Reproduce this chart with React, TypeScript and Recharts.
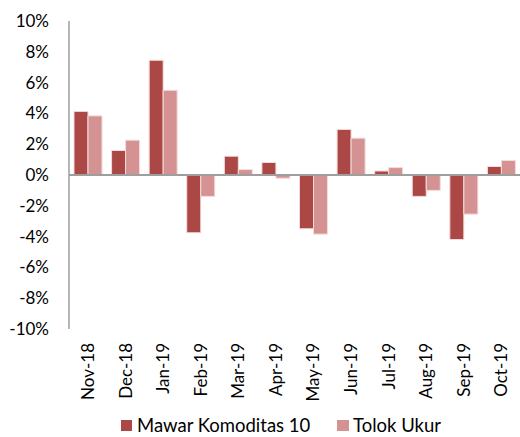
import { BarChart, Bar, XAxis, YAxis, ReferenceLine, Legend } from 'recharts'

const months = ['Nov-18', 'Dec-18', 'Jan-19', 'Feb-19', 'Mar-19', 'Apr-19', 'May-19', 'Jun-19', 'Jul-19', 'Aug-19', 'Sep-19', 'Oct-19']
const mawar = [4.13, 1.59, 7.45, -3.75, 1.22, 0.81, -3.49, 2.96, 0.26, -1.39, -4.19, 0.55]
const tolok = [3.84, 2.26, 5.5, -1.39, 0.35, -0.21, -3.84, 2.39, 0.48, -1.0, -2.54, 0.94]
const yTicks = [-10, -8, -6, -4, -2, 0, 2, 4, 6, 8, 10]

const data = months.map((m, i) => ({ month: m, mawar: mawar[i], tolok: tolok[i] }))

const FONT = 'Lato, "Liberation Sans", sans-serif'
const RED = '#AB4744'
const PINK = '#D49392'

// y from recharts already has tickSize + tickMargin (8px) added
const MonthTick = ({ x, y, payload }: any) => (
  <text
    x={0}
    y={0}
    transform={`translate(${x},${y + 6}) rotate(-90)`}
    textAnchor="end"
    dy="0.36em"
    fontSize={17}
    fontFamily={FONT}
    fill="#000"
  >
    {payload.value}
  </text>
)

const LegendBox = () => (
  <div style={{ position: 'relative', height: 26, fontFamily: FONT, fontSize: 18.5, color: '#000', lineHeight: '20px' }}>
    <div style={{ position: 'absolute', left: 121, top: 4, display: 'flex', alignItems: 'center' }}>
      <span style={{ width: 11, height: 11, background: RED, display: 'inline-block', marginRight: 5 }} />
      <span>Mawar Komoditas 10</span>
    </div>
    <div style={{ position: 'absolute', left: 337, top: 4, display: 'flex', alignItems: 'center' }}>
      <span style={{ width: 12, height: 11, background: PINK, display: 'inline-block', marginRight: 4 }} />
      <span>Tolok Ukur</span>
    </div>
  </div>
)

export default function App() {
  return (
    <div style={{ position: 'absolute', left: 0, top: 0, width: 520, height: 437, background: '#fff', overflow: 'hidden' }}>
      <BarChart
        width={520}
        height={437}
        data={data}
        margin={{ top: 21, right: 0, left: 0, bottom: 0 }}
        barGap={0}
        barSize={14}
      >
        <XAxis
          dataKey="month"
          axisLine={false}
          tickLine={false}
          interval={0}
          height={82}
          tick={<MonthTick />}
        />
        <YAxis
          width={69}
          domain={[-10, 10]}
          ticks={yTicks}
          tickFormatter={(v) => `${v}%`}
          tickLine={false}
          tickSize={0}
          tickMargin={20}
          axisLine={{ stroke: '#9E9E9E', strokeWidth: 1.5 }}
          tick={{ fontSize: 17, fontFamily: FONT, fill: '#000' }}
        />
        <ReferenceLine y={0} stroke="#9E9E9E" strokeWidth={2} />
        <Legend verticalAlign="bottom" content={<LegendBox />} />
        <Bar dataKey="mawar" name="Mawar Komoditas 10" fill={RED} stroke="#F2DCDB" strokeWidth={1} isAnimationActive={false} />
        <Bar dataKey="tolok" name="Tolok Ukur" fill={PINK} stroke="#F2DCDB" strokeWidth={1} isAnimationActive={false} />
      </BarChart>
    </div>
  )
}
